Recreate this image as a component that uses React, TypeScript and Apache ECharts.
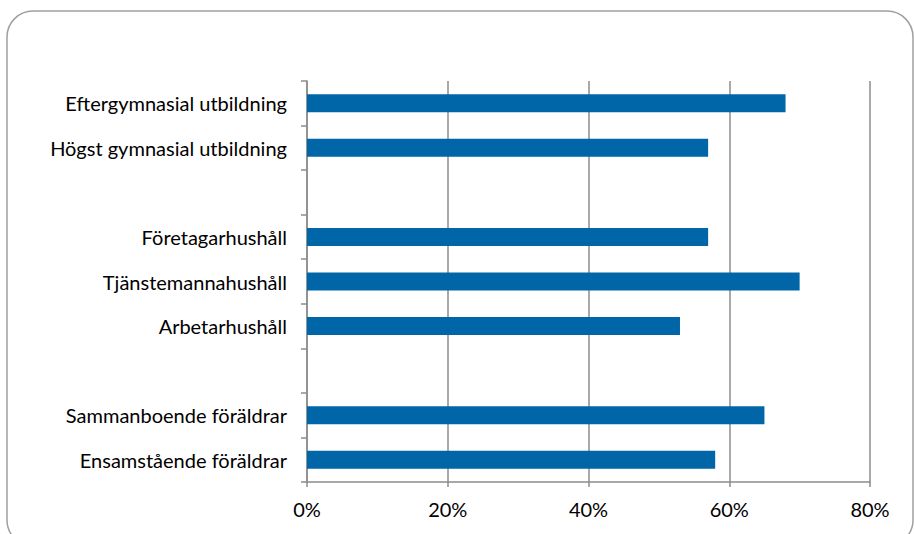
import React, { useEffect, useRef } from "react";
import * as echarts from "echarts";

const categories = [
  "Ensamstående föräldrar",
  "Sammanboende föräldrar",
  " ",
  "Arbetarhushåll",
  "Tjänstemannahushåll",
  "Företagarhushåll",
  "  ",
  "Högst gymnasial utbildning",
  "Eftergymnasial utbildning",
];
const values: (number | null)[] = [58, 65, null, 53, 70, 57, null, 57, 68];
const xTicks = { min: 0, max: 80, interval: 20 };

export default function App() {
  const ref = useRef<HTMLDivElement>(null);
  useEffect(() => {
    if (!ref.current) return;
    const chart = echarts.init(ref.current, undefined, { renderer: "svg" });
    const font = "Lato, 'Noto Sans', sans-serif";
    chart.setOption({
      animation: false,
      backgroundColor: "#ffffff",
      graphic: [
        {
          type: "rect",
          shape: { x: 7, y: 11, width: 906, height: 535, r: 26 },
          style: { fill: "none", stroke: "#a0a0a0", lineWidth: 1.5 },
          silent: true,
        },
      ],
      grid: { left: 307, right: 44, top: 81, bottom: 52, containLabel: false },
      xAxis: {
        type: "value",
        min: xTicks.min,
        max: xTicks.max,
        interval: xTicks.interval,
        axisLine: { show: true, lineStyle: { color: "#8c8c8c", width: 1.5 } },
        axisTick: { show: true, length: 5, lineStyle: { color: "#8c8c8c", width: 1.5 } },
        splitLine: { show: true, lineStyle: { color: "#8c8c8c", width: 1.5 } },
        axisLabel: {
          formatter: (v: number) => `${v}%`,
          color: "#000",
          fontFamily: font,
          fontSize: 20,
          margin: 17,
        },
      },
      yAxis: {
        type: "category",
        data: categories,
        axisLine: { show: true, lineStyle: { color: "#8c8c8c", width: 1.5 } },
        axisTick: { show: true, length: 6, lineStyle: { color: "#8c8c8c", width: 1.5 } },
        splitLine: { show: false },
        axisLabel: {
          color: "#000",
          fontFamily: font,
          fontSize: 20,
          margin: 20,
        },
      },
      series: [
        {
          type: "bar",
          data: values,
          barWidth: 18,
          itemStyle: { color: "#0066a8" },
        },
      ],
    });
    return () => chart.dispose();
  }, []);
  return <div ref={ref} style={{ width: 914, height: 534, position: "absolute", left: 0, top: 0 }} />;
}
